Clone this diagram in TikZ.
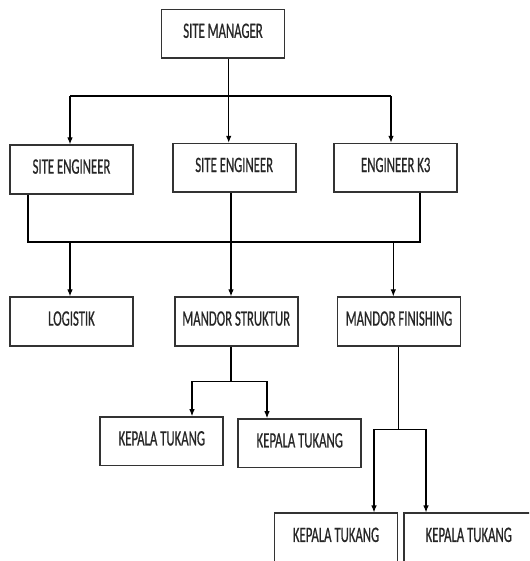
\documentclass[tikz,border=0pt]{standalone}
\usepackage{fontspec}
\setmainfont[FakeStretch=0.58,FakeBold=0.6]{Carlito}
\usetikzlibrary{arrows.meta}
\tikzset{
  box/.style={draw=black!80, line width=1.7pt, minimum width=123pt, minimum height=48.5pt,
    inner sep=0pt, text depth=6pt, font=\fontsize{22}{24}\selectfont, text=black!85},
  conn/.style={draw=black, line width=1.1pt},
  arr/.style={conn, -{Latex[length=7pt,width=5.5pt]}},
}
\begin{document}
\begin{tikzpicture}[x=1pt,y=-1pt]
\useasboundingbox (0,0) rectangle (529,561);
\clip (0,0) rectangle (529,561);
% nodes
\node[box] (SM)  at (223,33.75) {SITE MANAGER};
\node[box] (SE1) at (71.5,169.5) {SITE ENGINEER};
\node[box] (SE2) at (234.2,167.9) {SITE ENGINEER};
\node[box] (EK3) at (395.7,167.9) {ENGINEER K3};
\node[box] (LOG) at (71.5,321.5) {LOGISTIK};
\node[box] (MS)  at (236.2,321.5) {MANDOR STRUKTUR};
\node[box] (MF)  at (399,321.5) {MANDOR FINISHING};
\node[box] (KT1) at (161.8,441.3) {KEPALA TUKANG};
\node[box] (KT2) at (299.7,443.3) {KEPALA TUKANG};
\node[box, minimum height=49pt] (KT3) at (336,537.8) {KEPALA TUKANG};
\node[box, minimum height=49pt, minimum width=130pt] (KT4) at (468.7,537.8) {KEPALA TUKANG};
% level 1
\coordinate (j1) at (228.7,96);
\coordinate (hL) at (70,96);
\coordinate (hR) at (391,96);
\draw[conn] (j1 |- SM.south) -- (j1);
\draw[conn] (hL) -- (hR);
\draw[arr] (hL) -- (hL |- SE1.north);
\draw[arr] (j1) -- (j1 |- SE2.north);
\draw[arr] (hR) -- (hR |- EK3.north);
% level 2
\coordinate (b1) at (28,242);
\coordinate (b2) at (420,242);
\draw[conn] (b1 |- SE1.south) -- (b1) -- (b2) -- (b2 |- EK3.south);
\coordinate (c1) at (70,242);
\coordinate (c2) at (231,242);
\coordinate (c3) at (393.3,242);
\draw[arr] (c1) -- (c1 |- LOG.north);
\draw[arr] (c2 |- SE2.south) -- (c2 |- MS.north);
\draw[arr] (c3) -- (c3 |- MF.north);
% level 3 (struktur)
\coordinate (d) at (231,381.3);
\coordinate (d1) at (192,381.3);
\coordinate (d2) at (267,381.3);
\draw[conn] (d |- MS.south) -- (d);
\draw[conn] (d1) -- (d2);
\draw[arr] (d1) -- (d1 |- KT1.north);
\draw[arr] (d2) -- (d2 |- KT2.north);
% level 3 (finishing)
\coordinate (e) at (398.3,429.3);
\coordinate (e1) at (374,429.3);
\coordinate (e2) at (426,429.3);
\draw[conn] (e |- MF.south) -- (e);
\draw[conn] (e1) -- (e2);
\draw[arr] (e1) -- (e1 |- KT3.north);
\draw[arr] (e2) -- (e2 |- KT4.north);
\end{tikzpicture}
\end{document}
